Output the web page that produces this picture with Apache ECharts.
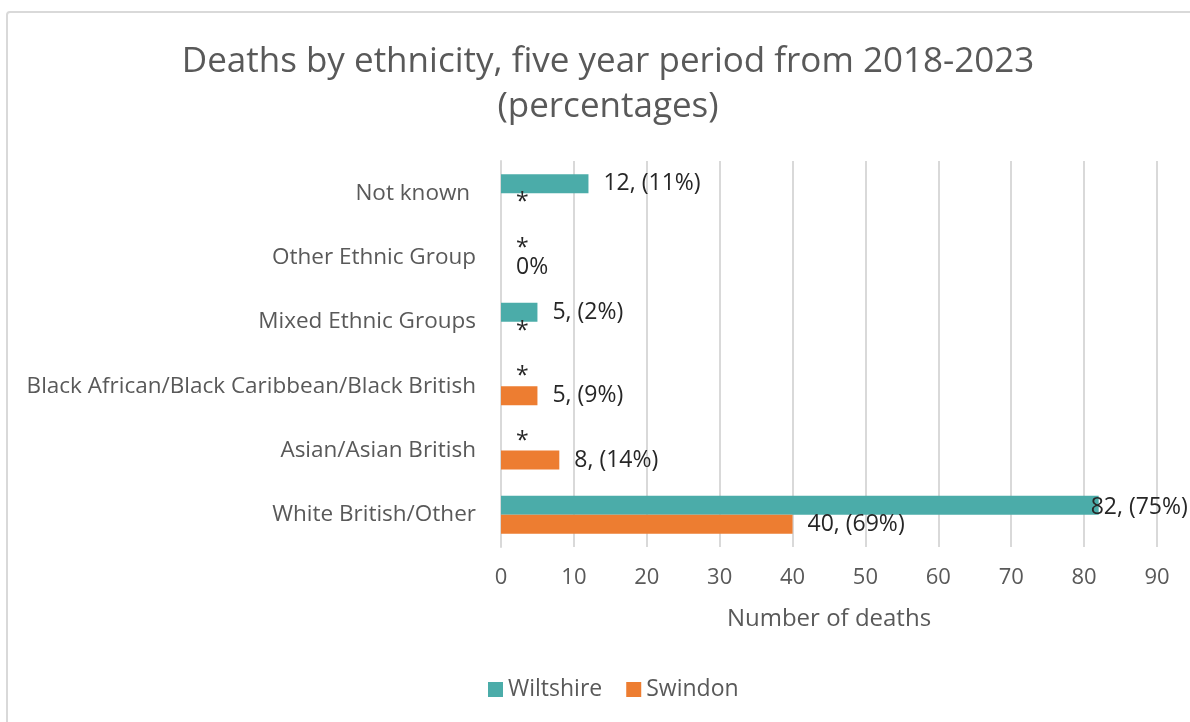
<!DOCTYPE html>
<html>
<head>
<meta charset="utf-8">
<script src="https://cdn.jsdelivr.net/npm/echarts@6/dist/echarts.min.js"></script>
<style>
  html, body { margin: 0; padding: 0; background: #fff; }
  #frame { position: absolute; left: 6px; top: 11px; width: 1300px; height: 800px;
           border: 2px solid #d9d9d9; border-radius: 4px; box-sizing: border-box; }
  #chart { position: absolute; left: 0; top: 0; width: 1190px; height: 722px; }
</style>
</head>
<body>
<div id="frame"></div>
<div id="chart"></div>
<script>
// Ethnic groups, listed top to bottom
const categories = [
  'Not known ',
  'Other Ethnic Group',
  'Mixed Ethnic Groups',
  'Black African/Black Caribbean/Black British',
  'Asian/Asian British',
  'White British/Other'
];

// Number of deaths per area
const wiltshireDeaths = [12, 0, 5, 0, 0, 82];
const swindonDeaths   = [0, 0, 0, 5, 8, 40];

// Label text per bar (suppressed small counts shown as "*")
const wiltshireLabels = ['12, (11%)', '*', '5, (2%)', '*', '*', '82, (75%)'];
const swindonLabels   = ['*', '0%', '*', '5, (9%)', '8, (14%)', '40, (69%)'];

const xTicks = { min: 0, max: 90, interval: 10 };

const FONT = '"Open Sans", Lato, sans-serif';
const GREY = '#595959';

function buildData(values, labels, lastOffset) {
  return values.map((v, i) => {
    const item = { value: v, label: { formatter: labels[i] } };
    if (lastOffset && v > 70) item.label.offset = lastOffset;
    return item;
  });
}

const chart = echarts.init(document.getElementById('chart'), null, { renderer: 'canvas' });

chart.setOption({
  backgroundColor: 'transparent',
  animation: false,
  title: {
    text: 'Deaths by ethnicity, five year period from 2018-2023\n(percentages)',
    left: 603,
    textAlign: 'center',
    top: 35,
    textStyle: { fontFamily: FONT, fontSize: 35, fontWeight: 'normal', color: GREY, lineHeight: 45 }
  },
  legend: {
    bottom: 16,
    left: 483,
    itemWidth: 15,
    itemHeight: 15,
    itemGap: 24,
    icon: 'rect',
    textStyle: { fontFamily: FONT, fontSize: 23, color: GREY },
    data: ['Wiltshire', 'Swindon']
  },
  grid: { left: 501, right: 33, top: 161, bottom: 175, containLabel: false },
  xAxis: {
    type: 'value',
    min: xTicks.min, max: xTicks.max, interval: xTicks.interval,
    name: 'Number of deaths',
    nameLocation: 'middle',
    nameGap: 60,
    nameTextStyle: { fontFamily: FONT, fontSize: 24, color: GREY, verticalAlign: 'top' },
    axisLine: { show: false },
    axisTick: { show: false },
    axisLabel: { fontFamily: FONT, fontSize: 22, color: GREY, margin: 20 },
    splitLine: { show: true, lineStyle: { color: '#d9d9d9', width: 2 } }
  },
  yAxis: {
    type: 'category',
    inverse: true,
    data: categories,
    axisLine: { show: true, lineStyle: { color: '#d9d9d9', width: 2 } },
    axisTick: { show: false },
    axisLabel: { fontFamily: FONT, fontSize: 22.5, color: GREY, margin: 25 }
  },
  series: [
    {
      name: 'Wiltshire',
      type: 'bar',
      barWidth: 19,
      barGap: '0%',
      itemStyle: { color: '#4BACA9' },
      label: { show: true, position: 'right', distance: 15, fontFamily: FONT, fontSize: 23, color: '#262626' },
      data: buildData(wiltshireDeaths, wiltshireLabels, [-23, 2])
    },
    {
      name: 'Swindon',
      type: 'bar',
      barWidth: 19,
      barGap: '0%',
      itemStyle: { color: '#ED7D31' },
      label: { show: true, position: 'right', distance: 15, fontFamily: FONT, fontSize: 23, color: '#262626' },
      data: buildData(swindonDeaths, swindonLabels, null)
    }
  ]
});
</script>
</body>
</html>
